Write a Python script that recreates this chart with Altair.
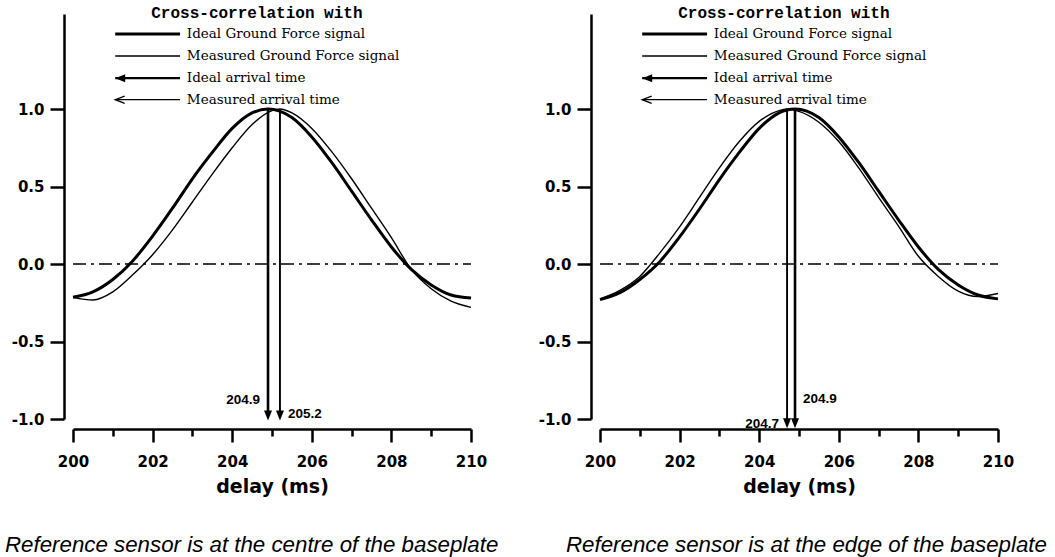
import altair as alt
import pandas as pd

# ---------------- data ----------------
X_TICKS_MAJOR = [200, 202, 204, 206, 208, 210]
X_TICKS_MINOR = [201, 203, 205, 207, 209]
Y_TICKS = [-1.0, -0.5, 0.0, 0.5, 1.0]

# left panel: reference sensor at the centre of the baseplate
LEFT_IDEAL_X = [200.0, 200.5, 201.0, 201.5, 202.0, 202.5, 203.0, 203.5, 204.0, 204.5, 204.9,
                205.5, 206.0, 206.5, 207.0, 207.5, 208.0, 208.5, 209.0, 209.5, 210.0]
LEFT_IDEAL_Y = [-0.215, -0.18, -0.10, 0.02, 0.18, 0.36, 0.55, 0.72, 0.875, 0.975, 1.0,
                0.945, 0.82, 0.655, 0.47, 0.285, 0.11, -0.035, -0.135, -0.20, -0.22]
LEFT_MEAS_X = [200.0, 200.5, 201.0, 201.5, 202.0, 202.5, 203.0, 203.5, 204.0, 204.5, 205.0, 205.2,
               205.5, 206.0, 206.5, 207.0, 207.5, 208.0, 208.5, 209.0, 209.5, 210.0]
LEFT_MEAS_Y = [-0.215, -0.232, -0.18, -0.07, 0.06, 0.22, 0.40, 0.58, 0.75, 0.90, 0.99, 1.0,
               0.975, 0.875, 0.725, 0.55, 0.36, 0.17, -0.035, -0.16, -0.24, -0.28]
LEFT_ARRIVAL_IDEAL = 204.9
LEFT_ARRIVAL_MEAS = 205.2

# right panel: reference sensor at the edge of the baseplate
RIGHT_IDEAL_X = LEFT_IDEAL_X
RIGHT_IDEAL_Y = [-0.23, -0.185, -0.10, 0.015, 0.175, 0.355, 0.545, 0.72, 0.875, 0.975, 1.0,
                 0.945, 0.82, 0.655, 0.47, 0.285, 0.11, -0.035, -0.135, -0.20, -0.225]
RIGHT_MEAS_X = [200.0, 200.5, 201.0, 201.5, 202.0, 202.5, 203.0, 203.5, 204.0, 204.5, 204.7, 205.0,
                205.5, 206.0, 206.5, 207.0, 207.5, 208.0, 208.5, 209.0, 209.5, 210.0]
RIGHT_MEAS_Y = [-0.225, -0.17, -0.08, 0.07, 0.24, 0.43, 0.62, 0.79, 0.92, 0.99, 1.0, 0.985,
                0.915, 0.79, 0.62, 0.43, 0.245, 0.05, -0.08, -0.175, -0.21, -0.19]
RIGHT_ARRIVAL_IDEAL = 204.9
RIGHT_ARRIVAL_MEAS = 204.7

LEGEND_TITLE = "Cross-correlation with"
LEGEND_LABELS = ["Ideal Ground Force signal", "Measured Ground Force signal",
                 "Ideal arrival time", "Measured arrival time"]
CAPTIONS = ["Reference sensor is at the centre of the baseplate",
            "Reference sensor is at the edge of the baseplate"]
X_TITLE = "delay (ms)"

# ---------------- layout / style constants ----------------
W, H = 398, 405
X_DOMAIN = [200, 210]
Y_DOMAIN = [-1.0, 1.613]
XS = alt.Scale(domain=X_DOMAIN, nice=False, zero=False)
YS = alt.Scale(domain=Y_DOMAIN, nice=False, zero=False)
AX_FONT = "DejaVu Sans"

Y_AXIS = alt.Axis(values=Y_TICKS, title=None, grid=False, offset=9, tickSize=14, tickWidth=2.5,
                  domainWidth=2.5, labelPadding=6, labelFont=AX_FONT, labelFontSize=15,
                  labelFontWeight="bold", labelColor="black", domainColor="black", tickColor="black",
                  labelExpr="replace(format(datum.value, '.1f'), '\u2212', '-')")
X_MAIN_AXIS = alt.Axis(values=X_TICKS_MAJOR, orient="bottom", title=X_TITLE, grid=False, offset=10,
                       tickSize=13, tickWidth=2.5, domainWidth=2.5, labelPadding=12, format="d",
                       labelFont=AX_FONT, labelFontSize=15, labelFontWeight="bold", labelColor="black",
                       titleFont=AX_FONT, titleFontSize=19, titleFontWeight="bold", titleColor="black",
                       titlePadding=8, domainColor="black", tickColor="black", labelFlush=False)
X_MINOR_AXIS = alt.Axis(values=X_TICKS_MINOR, orient="bottom", title=None, grid=False, offset=10,
                        tickSize=7, tickWidth=2.5, domain=False, labels=False, tickColor="black")

DOWN_HEAD = "M-0.8,-2L0.8,-2L0,0Z"
LEFT_HEAD_FILLED = "M2,-0.8L0,0L2,0.8Z"
LEFT_HEAD_OPEN = "M2,-0.75L0,0L2,0.75"

LEG_X0, LEG_X1, LEG_TX, LEG_TITLE_X = 201.06, 202.69, 202.86, 204.62
LEG_TITLE_Y = 1.617
LEG_ROW_Y = [1.484, 1.342, 1.199, 1.06]


def xq(field, axis=None):
    return alt.X(field, type="quantitative", scale=XS, axis=axis)


def yq(field):
    return alt.Y(field, type="quantitative", scale=YS, axis=Y_AXIS)


def panel(ix, iy, mx, my, arr_ideal, arr_meas, tip_y, lab_ideal_y, lab_meas_y, ideal_left, caption, cap_dx):
    layers = []
    # zero reference line (carries the minor ticks)
    zero = pd.DataFrame({"x": [X_DOMAIN[0]], "x2": [X_DOMAIN[1]], "y": [0.0]})
    layers.append(alt.Chart(zero).mark_rule(color="black", strokeWidth=1.3, strokeDash=[13, 5, 3, 5])
                  .encode(x=xq("x", X_MINOR_AXIS), x2="x2:Q", y=yq("y")))
    # curves
    layers.append(alt.Chart(pd.DataFrame({"x": ix, "y": iy}))
                  .mark_line(color="black", strokeWidth=3, interpolate="monotone")
                  .encode(x=xq("x", X_MAIN_AXIS), y=yq("y")))
    layers.append(alt.Chart(pd.DataFrame({"x": mx, "y": my}))
                  .mark_line(color="black", strokeWidth=1.4, interpolate="monotone")
                  .encode(x=xq("x"), y=yq("y")))
    # arrival-time arrows
    for ax, w in ((arr_ideal, 2.6), (arr_meas, 1.9)):
        d = pd.DataFrame({"x": [ax], "y": [1.0], "y2": [tip_y + 0.03], "t": [tip_y]})
        layers.append(alt.Chart(d).mark_rule(color="black", strokeWidth=w)
                      .encode(x=xq("x"), y=yq("y"), y2="y2:Q"))
        layers.append(alt.Chart(d).mark_point(shape=DOWN_HEAD, size=100, filled=True,
                                              color="black", opacity=1, strokeWidth=0)
                      .encode(x=xq("x"), y=yq("t")))
    # arrow labels
    if ideal_left:
        left_lab = pd.DataFrame({"x": [arr_ideal], "y": [lab_ideal_y], "t": [f"{arr_ideal:.1f}"]})
        right_lab = pd.DataFrame({"x": [arr_meas], "y": [lab_meas_y], "t": [f"{arr_meas:.1f}"]})
    else:
        left_lab = pd.DataFrame({"x": [arr_meas], "y": [lab_meas_y], "t": [f"{arr_meas:.1f}"]})
        right_lab = pd.DataFrame({"x": [arr_ideal], "y": [lab_ideal_y], "t": [f"{arr_ideal:.1f}"]})
    layers.append(alt.Chart(left_lab).mark_text(align="right", baseline="middle", dx=-8,
                                                font="Liberation Sans", fontWeight="bold",
                                                fontSize=13.5, color="black")
                  .encode(x=xq("x"), y=yq("y"), text="t:N"))
    layers.append(alt.Chart(right_lab).mark_text(align="left", baseline="middle", dx=8,
                                                 font="Liberation Sans", fontWeight="bold",
                                                 fontSize=13.5, color="black")
                  .encode(x=xq("x"), y=yq("y"), text="t:N"))
    # legend
    layers.append(alt.Chart(pd.DataFrame({"x": [LEG_TITLE_X], "y": [LEG_TITLE_Y], "t": [LEGEND_TITLE]}))
                  .mark_text(align="center", baseline="middle", font="Liberation Mono",
                             fontWeight="bold", fontSize=16, color="black")
                  .encode(x=xq("x"), y=yq("y"), text="t:N"))
    for ry, w in zip(LEG_ROW_Y, (3, 1.3, 2.2, 1.3)):
        d = pd.DataFrame({"x": [LEG_X0], "x2": [LEG_X1], "y": [ry]})
        layers.append(alt.Chart(d).mark_rule(color="black", strokeWidth=w)
                      .encode(x=xq("x"), x2="x2:Q", y=yq("y")))
    layers.append(alt.Chart(pd.DataFrame({"x": [LEG_X0], "y": [LEG_ROW_Y[2]]}))
                  .mark_point(shape=LEFT_HEAD_FILLED, size=100, filled=True, color="black",
                              opacity=1, strokeWidth=0)
                  .encode(x=xq("x"), y=yq("y")))
    layers.append(alt.Chart(pd.DataFrame({"x": [LEG_X0], "y": [LEG_ROW_Y[3]]}))
                  .mark_point(shape=LEFT_HEAD_OPEN, size=90, filled=False, color="black",
                              opacity=1, strokeWidth=1.3)
                  .encode(x=xq("x"), y=yq("y")))
    layers.append(alt.Chart(pd.DataFrame({"x": [LEG_TX] * 4, "y": LEG_ROW_Y, "t": LEGEND_LABELS}))
                  .mark_text(align="left", baseline="middle", font="DejaVu Serif",
                             fontSize=13.5, color="black")
                  .encode(x=xq("x"), y=yq("y"), text="t:N"))

    return (alt.layer(*layers)
            .resolve_axis(x="independent")
            .properties(width=W, height=H,
                        title=alt.TitleParams(caption, orient="bottom", anchor="start", frame="group",
                                              dx=cap_dx, offset=38, font="Liberation Sans",
                                              fontStyle="italic", fontWeight="normal",
                                              fontSize=22.3, color="black")))


left = panel(LEFT_IDEAL_X, LEFT_IDEAL_Y, LEFT_MEAS_X, LEFT_MEAS_Y, LEFT_ARRIVAL_IDEAL, LEFT_ARRIVAL_MEAS,
             -1.01, -0.875, -0.965, True, CAPTIONS[0], -68)
right = panel(RIGHT_IDEAL_X, RIGHT_IDEAL_Y, RIGHT_MEAS_X, RIGHT_MEAS_Y, RIGHT_ARRIVAL_IDEAL,
              RIGHT_ARRIVAL_MEAS, -1.06, -0.87, -1.03, False, CAPTIONS[1], -34)

chart = (alt.hconcat(left, right, spacing=129, bounds="flush")
         .properties(padding={"left": 5, "top": 5, "right": 0, "bottom": 0}, background="white")
         .configure_view(stroke=None))

chart.save("out.html", embed_options={"renderer": "svg", "actions": False})
